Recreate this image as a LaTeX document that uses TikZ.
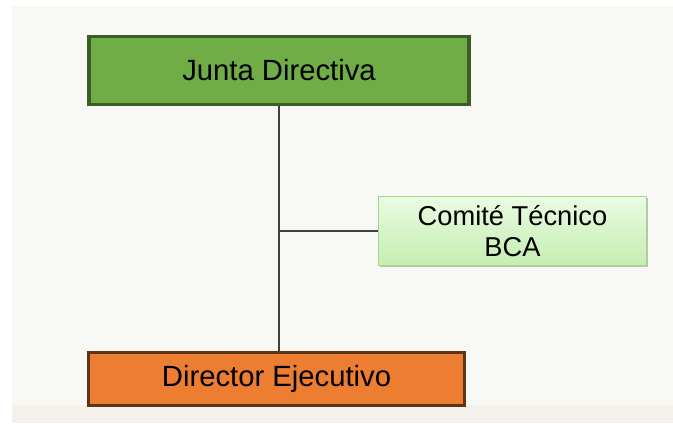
\documentclass[tikz,border=0pt]{standalone}
\usepackage{fontspec}
\setmainfont{Liberation Sans}
\usetikzlibrary{shadows}
\definecolor{juntaverde}{HTML}{70AD47}
\definecolor{juntaborde}{HTML}{3B5E27}
\definecolor{dirnaranja}{HTML}{ED7D31}
\definecolor{dirborde}{HTML}{5C3417}
\definecolor{comitearriba}{HTML}{EAFBE2}
\definecolor{comiteabajo}{HTML}{C4EEB0}
\definecolor{comiteborde}{HTML}{A2D88A}
\definecolor{fondo}{HTML}{F8F9F5}
\definecolor{franja}{HTML}{F4F1EA}
\definecolor{linea}{HTML}{404040}

\begin{document}
\begin{tikzpicture}[x=0.025cm,y=-0.025cm,
  caja/.style={draw,line width=0.8mm,inner sep=0pt,align=center,
    font=\fontsize{20.8}{24}\selectfont,
    drop shadow={shadow xshift=0.3mm,shadow yshift=-0.4mm,opacity=0.35}},
  enlace/.style={draw=linea,line width=0.35mm}]
\useasboundingbox (0,0) rectangle (673,423);
\fill[white] (0,0) rectangle (673,423);
\fill[fondo] (12,6) rectangle (673,405);
\fill[franja] (12,405) rectangle (673,423);
%
\node[caja,draw=juntaborde,fill=juntaverde,minimum width=9.5cm,minimum height=1.7cm]
  (junta) at (279,70.5) {Junta Directiva};
\node[caja,draw=dirborde,fill=dirnaranja,minimum width=9.4cm,minimum height=1.33cm]
  (director) at (276.5,379) {Director Ejecutivo};
\node[caja,line width=0.4mm,draw=comiteborde,top color=comitearriba,bottom color=comiteabajo,
  minimum width=6.7cm,minimum height=1.72cm,font=\fontsize{19.4}{21.5}\selectfont,
  drop shadow={shadow xshift=0.3mm,shadow yshift=-0.4mm,opacity=0.2}]
  (comite) at (512.5,231) {Comité Técnico\\BCA};
%
\coordinate (cruce) at (junta.south |- comite.west);
\draw[enlace] (junta.south) -- (junta.south |- director.north);
\draw[enlace] (comite.west) -- (cruce);
\end{tikzpicture}
\end{document}
